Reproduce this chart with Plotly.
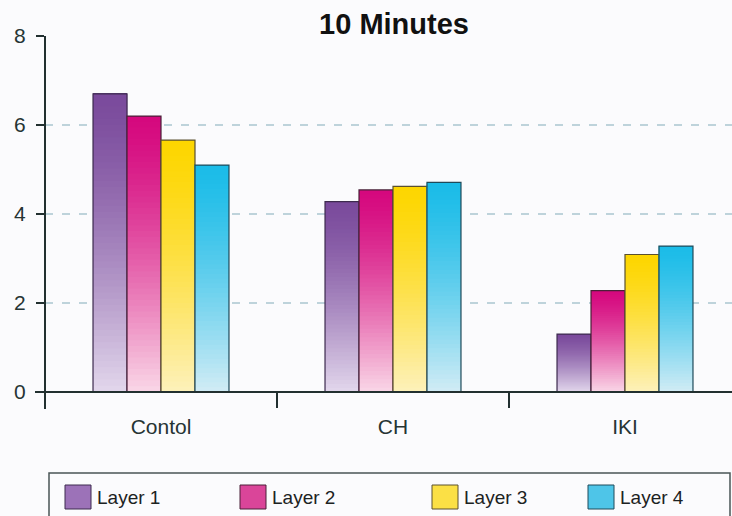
import plotly.graph_objects as go

# ---- data -------------------------------------------------------------
categories = ["Contol", "CH", "IKI"]
layer_names = ["Layer 1", "Layer 2", "Layer 3", "Layer 4"]
layer1 = [6.70, 4.28, 1.30]
layer2 = [6.20, 4.54, 2.28]
layer3 = [5.66, 4.62, 3.09]
layer4 = [5.10, 4.71, 3.28]
y_tick_values = [0, 2, 4, 6, 8]
grid_values = [2, 4, 6]

layers = [layer1, layer2, layer3, layer4]

# ---- styling ----------------------------------------------------------
top_colors = ["#7a4a9c", "#d5087e", "#fdd600", "#1bbce8"]
bottom_colors = ["#e2d7ec", "#fad7e7", "#fdf1bb", "#d2ecf5"]
swatch_colors = ["#9c72b8", "#da4599", "#fbe045", "#4ec5e8"]
edge_colors = ["#3d2a4e", "#4a2038", "#5a5030", "#1f4a5a"]
axis_color = "#223030"
text_color = "#263434"
bg = "#fbfbfd"
FONT = "Liberation Sans, Arial, sans-serif"

# plot-area pixel frame (used to place decorations in paper coords)
L, R, T, B = 45, 732, 36, 392


def px_x(p):
    return (p - L) / (R - L)


def px_y(p):
    return (B - p) / (B - T)


def hex_rgb(h):
    h = h.lstrip("#")
    return [int(h[i:i + 2], 16) for i in (0, 2, 4)]


def mix(c0, c1, t):
    a, b = hex_rgb(c0), hex_rgb(c1)
    return "rgb({},{},{})".format(*[round(a[i] + (b[i] - a[i]) * t) for i in range(3)])


STEPS = 48
GAMMA = 1.35

fig = go.Figure()

for i, (vals, name) in enumerate(zip(layers, layer_names)):
    xs, bases, heights, cols = [], [], [], []
    for cat, v in zip(categories, vals):
        # each slice runs from its own start up to the bar top, so later
        # (higher) slices paint over earlier ones without any seams
        for k in range(STEPS):
            xs.append(cat)
            bases.append(v * k / STEPS)
            heights.append(v * (STEPS - k) / STEPS)
            t = 1 - (k + 0.5) / STEPS  # 0 at top of bar, 1 at bottom
            cols.append(mix(top_colors[i], bottom_colors[i], t ** GAMMA))
    fig.add_trace(go.Bar(
        x=xs, y=heights, base=bases, offsetgroup=str(i),
        marker=dict(color=cols, line=dict(width=0)),
        showlegend=False, hoverinfo="skip",
    ))
    # bar outline carrying the value
    fig.add_trace(go.Bar(
        x=categories, y=vals, name=name, offsetgroup=str(i),
        marker=dict(color="rgba(0,0,0,0)", line=dict(color=edge_colors[i], width=1.2)),
        showlegend=False,
    ))

shapes = []
# dashed horizontal grid
for g in grid_values:
    shapes.append(dict(type="line", xref="paper", yref="y", x0=0, x1=1, y0=g, y1=g,
                       line=dict(color="#aac6d0", width=1.6, dash="8px,9px"), layer="below"))
# axis lines that run past each other at the origin
shapes.append(dict(type="line", xref="paper", yref="paper", x0=0, x1=0,
                   y0=px_y(409), y1=1, line=dict(color=axis_color, width=2)))
shapes.append(dict(type="line", xref="paper", yref="paper", x0=px_x(35), x1=1,
                   y0=0, y1=0, line=dict(color=axis_color, width=2)))
# legend frame
shapes.append(dict(type="rect", xref="paper", yref="paper", x0=px_x(49), x1=px_x(730),
                   y0=px_y(530), y1=px_y(473), line=dict(color="#4a5656", width=1.5),
                   fillcolor="rgba(0,0,0,0)"))

annotations = []
swatch_left = [65, 240, 432, 588]
for i, name in enumerate(layer_names):
    x0 = swatch_left[i]
    shapes.append(dict(type="rect", xref="paper", yref="paper",
                       x0=px_x(x0), x1=px_x(x0 + 26), y0=px_y(509), y1=px_y(485),
                       fillcolor=swatch_colors[i], line=dict(color=edge_colors[i], width=1)))
    annotations.append(dict(text=name, xref="paper", yref="paper", x=px_x(x0 + 30), y=px_y(497),
                            xanchor="left", yanchor="middle", showarrow=False,
                            font=dict(family=FONT, size=19, color="#1c2222")))

fig.update_layout(
    width=732, height=516,
    margin=dict(l=L, r=732 - R, t=T, b=516 - B, autoexpand=False),
    paper_bgcolor=bg, plot_bgcolor=bg,
    barmode="group", bargap=0.414, bargroupgap=0,
    title=dict(text="<b>10 Minutes</b>", x=px_x(394), xref="paper", xanchor="center",
               y=1 - 24 / 516, yref="container", yanchor="middle",
               font=dict(family=FONT, size=29, color="#111111")),
    font=dict(family=FONT, color=text_color),
    showlegend=False,
    shapes=shapes,
    annotations=annotations,
    xaxis=dict(type="category", categoryorder="array", categoryarray=categories,
               range=[-0.5, -0.5 + (R - L) / 232], tickson="boundaries",
               ticks="outside", ticklen=15, tickwidth=2, tickcolor=axis_color,
               showline=False, showgrid=False, zeroline=False, automargin=False,
               tickfont=dict(family=FONT, size=21, color=text_color), ticklabelstandoff=20),
    yaxis=dict(range=[0, 8], tickvals=y_tick_values, ticks="outside", ticklen=8,
               tickwidth=2, tickcolor=axis_color, showline=False, showgrid=False,
               zeroline=False, automargin=False,
               tickfont=dict(family=FONT, size=21, color=text_color), ticklabelstandoff=6),
)

fig.write_html("out.html")
